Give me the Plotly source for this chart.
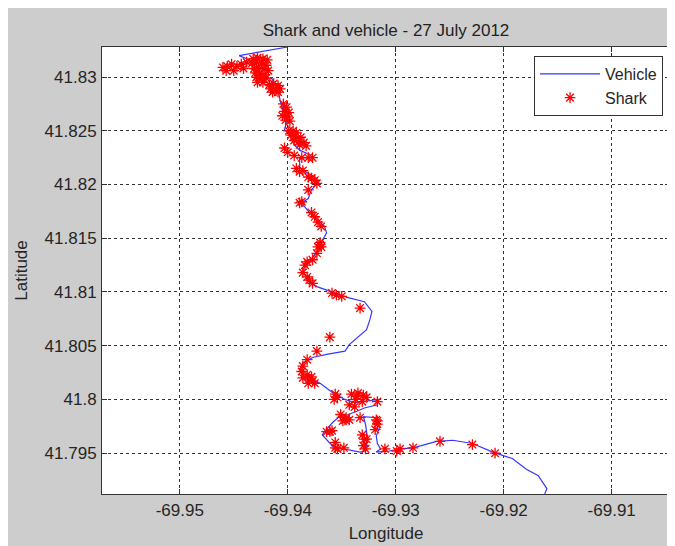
import plotly.graph_objects as go

# Vehicle track (longitude, latitude)
vehicle_lon = [-69.9400, -69.9445, -69.9438, -69.9433, -69.9428, -69.9424, -69.9428, -69.9420, -69.9415, -69.9409,
               -69.9407, -69.9404, -69.9401, -69.9403, -69.9399, -69.9394, -69.9389, -69.9380, -69.9377, -69.9389,
               -69.9389, -69.9382, -69.9375, -69.9372, -69.9378, -69.9381, -69.9387, -69.9384, -69.9380, -69.9372,
               -69.9366, -69.9364, -69.9368, -69.9372, -69.9380, -69.9386, -69.9382, -69.9373, -69.9358, -69.9345,
               -69.9329, -69.9322, -69.9324, -69.9327, -69.9343, -69.9347, -69.9364, -69.9377, -69.9386, -69.9389,
               -69.9384, -69.9370, -69.9358, -69.9347, -69.9338, -69.9329, -69.9316, -69.9317, -69.9329, -69.9336,
               -69.9344, -69.9352, -69.9358, -69.9366, -69.9368, -69.9358, -69.9347, -69.9333, -69.9328, -69.9326,
               -69.9328, -69.9330, -69.9317, -69.9315, -69.9318, -69.9317, -69.9314, -69.9318, -69.9306, -69.9296,
               -69.9284, -69.9262, -69.9247, -69.9229, -69.9210, -69.9197, -69.9192, -69.9179, -69.9168, -69.9164,
               -69.9160, -69.9162]
vehicle_lat = [41.8328, 41.8320, 41.8317, 41.8314, 41.8306, 41.8299, 41.8295, 41.8299, 41.8299, 41.8289,
               41.8278, 41.8269, 41.8259, 41.8251, 41.8248, 41.8237, 41.8232, 41.8228, 41.8225, 41.8225,
               41.8216, 41.8211, 41.8207, 41.8202, 41.8195, 41.8187, 41.8183, 41.8179, 41.8174, 41.8167,
               41.8161, 41.8155, 41.8148, 41.8139, 41.8128, 41.8121, 41.8111, 41.8105, 41.8100, 41.8095,
               41.8091, 41.8082, 41.8074, 41.8065, 41.8051, 41.8045, 41.8042, 41.8039, 41.8034, 41.8028,
               41.8020, 41.8015, 41.8006, 41.8000, 41.7997, 41.7998, 41.8000, 41.7995, 41.7992, 41.7989,
               41.7986, 41.7984, 41.7979, 41.7970, 41.7967, 41.7956, 41.7954, 41.7951, 41.7952, 41.7963,
               41.7977, 41.7984, 41.7983, 41.7974, 41.7966, 41.7959, 41.7954, 41.7951, 41.7952, 41.7954,
               41.7955, 41.7961, 41.7962, 41.7959, 41.7951, 41.7947, 41.7945, 41.7935, 41.7929, 41.7923,
               41.7917, 41.7912]

# Shark positions (longitude, latitude)
shark_lon = [-69.9460, -69.9456, -69.9452, -69.9447, -69.9443, -69.9438, -69.9457, -69.9450, -69.9441,
             -69.9432, -69.9428, -69.9423, -69.9419, -69.9433, -69.9429, -69.9424, -69.9420, -69.9431, -69.9427,
             -69.9422, -69.9418, -69.9430, -69.9426, -69.9421, -69.9429, -69.9424, -69.9420, -69.9428, -69.9423,
             -69.9417, -69.9413, -69.9409, -69.9416, -69.9411, -69.9407, -69.9414, -69.9409,
             -69.9404, -69.9401, -69.9403, -69.9399, -69.9405, -69.9400, -69.9402, -69.9398,
             -69.9399, -69.9395, -69.9392, -69.9397, -69.9393, -69.9388, -69.9394, -69.9390, -69.9385, -69.9389,
             -69.9383, -69.9403, -69.9400,
             -69.9394, -69.9387, -69.9381, -69.9377, -69.9392, -69.9389, -69.9386, -69.9381, -69.9378, -69.9375,
             -69.9373, -69.9381, -69.9387, -69.9389, -69.9378, -69.9375, -69.9372, -69.9369, -69.9372, -69.9370,
             -69.9370, -69.9369, -69.9373, -69.9377, -69.9382, -69.9384, -69.9386, -69.9382, -69.9380, -69.9377,
             -69.9359, -69.9355, -69.9350, -69.9333, -69.9361, -69.9373, -69.9382, -69.9386, -69.9387, -69.9382,
             -69.9378,
             -69.9380, -69.9375, -69.9386, -69.9381, -69.9356, -69.9354, -69.9357, -69.9341, -69.9335, -69.9330,
             -69.9337, -69.9331, -69.9343, -69.9327, -69.9317, -69.9351, -69.9346, -69.9349, -69.9343, -69.9364,
             -69.9359, -69.9356, -69.9356, -69.9348, -69.9331, -69.9329, -69.9330, -69.9328, -69.9318, -69.9317,
             -69.9319, -69.9333, -69.9310, -69.9296, -69.9284, -69.9259, -69.9229, -69.9208,
             -69.9377, -69.9336, -69.9338, -69.9347, -69.9361, -69.9354, -69.9327, -69.9317, -69.9299]
shark_lat = [41.8309, 41.8310, 41.8312, 41.8310, 41.8312, 41.8314, 41.8306, 41.8306, 41.8308,
             41.8317, 41.8318, 41.8317, 41.8316, 41.8313, 41.8314, 41.8313, 41.8311, 41.8308, 41.8309,
             41.8308, 41.8306, 41.8304, 41.8303, 41.8302, 41.8300, 41.8299, 41.8299, 41.8295, 41.8295,
             41.8293, 41.8294, 41.8292, 41.8289, 41.8289, 41.8289, 41.8286, 41.8286,
             41.8275, 41.8272, 41.8268, 41.8267, 41.8264, 41.8263, 41.8260, 41.8259,
             41.8250, 41.8250, 41.8248, 41.8246, 41.8245, 41.8244, 41.8241, 41.8240, 41.8239, 41.8237,
             41.8236, 41.8234, 41.8230,
             41.8227, 41.8225, 41.8225, 41.8225, 41.8215, 41.8212, 41.8213, 41.8207, 41.8206, 41.8204,
             41.8201, 41.8195, 41.8184, 41.8183, 41.8174, 41.8170, 41.8165, 41.8161, 41.8142, 41.8144,
             41.8146, 41.8142, 41.8136, 41.8130, 41.8128, 41.8125, 41.8118, 41.8114, 41.8111, 41.8108,
             41.8099, 41.8097, 41.8096, 41.8085, 41.8058, 41.8045, 41.8037, 41.8031, 41.8026, 41.8023,
             41.8021,
             41.8019, 41.8015, 41.8020, 41.8015, 41.8005, 41.8002, 41.8000, 41.8005, 41.8006, 41.8004,
             41.8000, 41.7998, 41.7995, 41.8002, 41.7998, 41.7986, 41.7983, 41.7980, 41.7981, 41.7970,
             41.7971, 41.7960, 41.7955, 41.7955, 41.7967, 41.7963, 41.7957, 41.7954, 41.7981, 41.7977,
             41.7972, 41.7983, 41.7954, 41.7954, 41.7955, 41.7961, 41.7958, 41.7950,
             41.8017, 41.8003, 41.7993, 41.7981, 41.7970, 41.7954, 41.7963, 41.7980, 41.7952]

x_ticks = [-69.95, -69.94, -69.93, -69.92, -69.91]
x_labels = ["-69.95", "-69.94", "-69.93", "-69.92", "-69.91"]
y_ticks = [41.795, 41.80, 41.805, 41.81, 41.815, 41.82, 41.825, 41.83]
y_labels = ["41.795", "41.8", "41.805", "41.81", "41.815", "41.82", "41.825", "41.83"]

FONT = "Liberation Sans, Arial, sans-serif"
TXT = "#262626"
FS = 17

fig = go.Figure()
fig.add_trace(go.Scatter(
    x=vehicle_lon, y=vehicle_lat, mode="lines", name="Vehicle",
    line=dict(color="#3636ff", width=1.2),
))
fig.add_trace(go.Scatter(
    x=shark_lon, y=shark_lat, mode="markers", name="Shark",
    marker=dict(symbol="asterisk-open", size=9, color="#ff0000",
                line=dict(color="#ff0000", width=1.3)),
))

axis_common = dict(
    showgrid=True, gridcolor="#333333", griddash="dot", gridwidth=1,
    showline=True, linecolor="#333333", linewidth=1, mirror="ticks",
    ticks="inside", ticklen=5, tickcolor="#333333",
    zeroline=False,
    tickfont=dict(family=FONT, size=FS, color=TXT),
)

fig.update_xaxes(
    range=[-69.9572, -69.9046], tickvals=x_ticks, ticktext=x_labels,
    title=dict(text="Longitude", font=dict(family=FONT, size=FS, color=TXT), standoff=7),
    ticklabelstandoff=1,
    **axis_common,
)
fig.update_yaxes(
    range=[41.7912, 41.8328], tickvals=y_ticks, ticktext=y_labels,
    title=dict(text="Latitude", font=dict(family=FONT, size=FS, color=TXT), standoff=12),
    ticklabelstandoff=1,
    **axis_common,
)

fig.update_layout(
    width=667, height=538,
    margin=dict(l=94, r=5, t=39, b=52, autoexpand=False),
    paper_bgcolor="#cdcdcd", plot_bgcolor="#ffffff",
    title=dict(text="Shark and vehicle - 27 July 2012", x=0.5, xref="paper",
               y=1 - 22 / 538, yref="container", yanchor="middle", xanchor="center",
               font=dict(family=FONT, size=FS, color="#222222")),
    legend=dict(x=0.9877, y=0.98, xanchor="right", yanchor="top",
                bgcolor="#ffffff", bordercolor="#333333", borderwidth=1,
                font=dict(family=FONT, size=16, color=TXT),
                itemwidth=60, tracegroupgap=0),
    showlegend=True,
)

fig.write_html("out.html")
